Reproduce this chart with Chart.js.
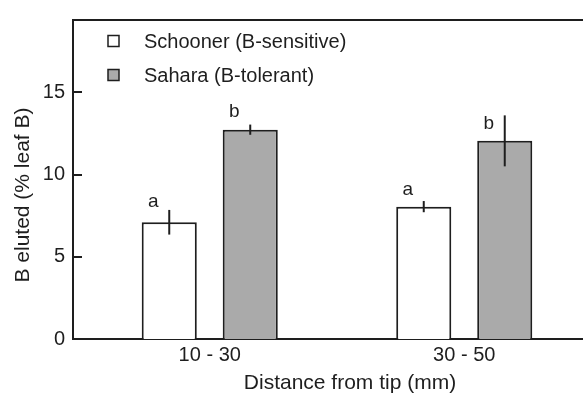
<!DOCTYPE html>
<html>
<head>
<meta charset="utf-8">
<script src="https://cdn.jsdelivr.net/npm/chart.js@4"></script>
<style>
  body { margin: 0; background: #fff; }
  #wrap { width: 583px; height: 394px; position: relative; }
</style>
</head>
<body>
<div id="wrap"><canvas id="chart"></canvas></div>
<script>
const categories = ["10 - 30", "30 - 50"];
const seriesNames = ["Schooner (B-sensitive)", "Sahara (B-tolerant)"];
const schoonerMean = [7.1, 8.05];
const schoonerErr = [0.75, 0.34];
const saharaMean = [12.73, 12.05];
const saharaErr = [0.31, 1.55];
const schoonerLetters = ["a", "a"];
const saharaLetters = ["b", "b"];
const schoonerLetterAt = [8.0, 8.75];
const saharaLetterAt = [13.5, 12.8];
const yTicks = [0, 5, 10, 15];

const FONT = '"Liberation Sans", Arial, sans-serif';
const INK = "#1e1e1e";

const errors = [schoonerErr, saharaErr];
const letters = [schoonerLetters, saharaLetters];
const letterAt = [schoonerLetterAt, saharaLetterAt];

const extras = {
  id: "extras",
  afterDatasetsDraw(chart) {
    const ctx = chart.ctx;
    const y = chart.scales.y;
    const area = chart.chartArea;
    ctx.save();
    ctx.strokeStyle = INK;
    ctx.lineWidth = 2;

    // error bars + letters
    chart.data.datasets.forEach((ds, i) => {
      const meta = chart.getDatasetMeta(i);
      meta.data.forEach((bar, j) => {
        const v = ds.data[j].y;
        const e = errors[i][j];
        ctx.beginPath();
        ctx.moveTo(bar.x, y.getPixelForValue(v + e));
        ctx.lineTo(bar.x, y.getPixelForValue(v - e));
        ctx.stroke();
        ctx.fillStyle = INK;
        ctx.font = "19px " + FONT;
        ctx.textAlign = "center";
        ctx.textBaseline = "alphabetic";
        ctx.fillText(letters[i][j], bar.x - 16, y.getPixelForValue(letterAt[i][j]));
      });
    });

    // top frame line
    ctx.beginPath();
    ctx.moveTo(area.left, area.top);
    ctx.lineTo(area.right, area.top);
    ctx.stroke();

    // inward y tick marks
    yTicks.forEach((t) => {
      const py = Math.round(y.getPixelForValue(t));
      ctx.beginPath();
      ctx.moveTo(area.left, py);
      ctx.lineTo(area.left + 9, py);
      ctx.stroke();
    });

    // legend
    ctx.font = "20px " + FONT;
    ctx.textAlign = "left";
    ctx.textBaseline = "middle";
    ctx.lineWidth = 1.5;
    chart.data.datasets.forEach((ds, i) => {
      const cy = 41 + i * 34;
      ctx.fillStyle = ds.backgroundColor;
      ctx.fillRect(108, cy - 5.5, 11, 11);
      ctx.strokeRect(108, cy - 5.5, 11, 11);
      ctx.fillStyle = INK;
      ctx.fillText(ds.label, 144, cy + 1);
    });

    // axis titles
    ctx.font = "21px " + FONT;
    ctx.textAlign = "center";
    ctx.fillText("Distance from tip (mm)", 350, 383);
    ctx.save();
    ctx.translate(23, 195);
    ctx.rotate(-Math.PI / 2);
    ctx.fillText("B eluted (% leaf B)", 0, 0);
    ctx.restore();

    ctx.restore();
  },
};

new Chart(document.getElementById("chart"), {
  type: "bar",
  data: {
    datasets: [
      {
        label: seriesNames[0],
        data: schoonerMean.map((v, i) => ({ x: i + 1, y: v })),
        backgroundColor: "#ffffff",
        borderColor: INK,
        borderWidth: 2,
      },
      {
        label: seriesNames[1],
        data: saharaMean.map((v, i) => ({ x: i + 1, y: v })),
        backgroundColor: "#aaaaaa",
        borderColor: INK,
        borderWidth: 2,
      },
    ],
  },
  options: {
    responsive: true,
    maintainAspectRatio: false,
    animation: false,
    categoryPercentage: 0.6365,
    barPercentage: 0.68,
    layout: { padding: { top: 14, right: 0, left: 0, bottom: 0 } },
    plugins: {
      legend: { display: false },
      tooltip: { enabled: false },
    },
    scales: {
      x: {
        type: "linear",
        offset: false,
        min: 0.4627,
        max: 2.4666,
        grid: { display: false, drawTicks: false, offset: false },
        border: { display: true, color: INK, width: 2 },
        afterBuildTicks: (scale) => {
          scale.ticks = categories.map((c, i) => ({ value: i + 1 }));
        },
        afterFit: (scale) => {
          scale.height = 55;
        },
        ticks: {
          color: INK,
          font: { family: FONT, size: 20 },
          padding: 4,
          maxRotation: 0,
          autoSkip: false,
          callback: (v) => categories[v - 1] || "",
        },
      },
      y: {
        min: 0,
        max: 19.4,
        grid: { display: false, drawTicks: false },
        border: { display: true, color: INK, width: 2 },
        afterBuildTicks: (scale) => {
          scale.ticks = yTicks.map((v) => ({ value: v }));
        },
        afterFit: (scale) => {
          scale.width = 73;
        },
        ticks: {
          color: INK,
          font: { family: FONT, size: 20 },
          padding: 8,
        },
      },
    },
  },
  plugins: [extras],
});
</script>
</body>
</html>
